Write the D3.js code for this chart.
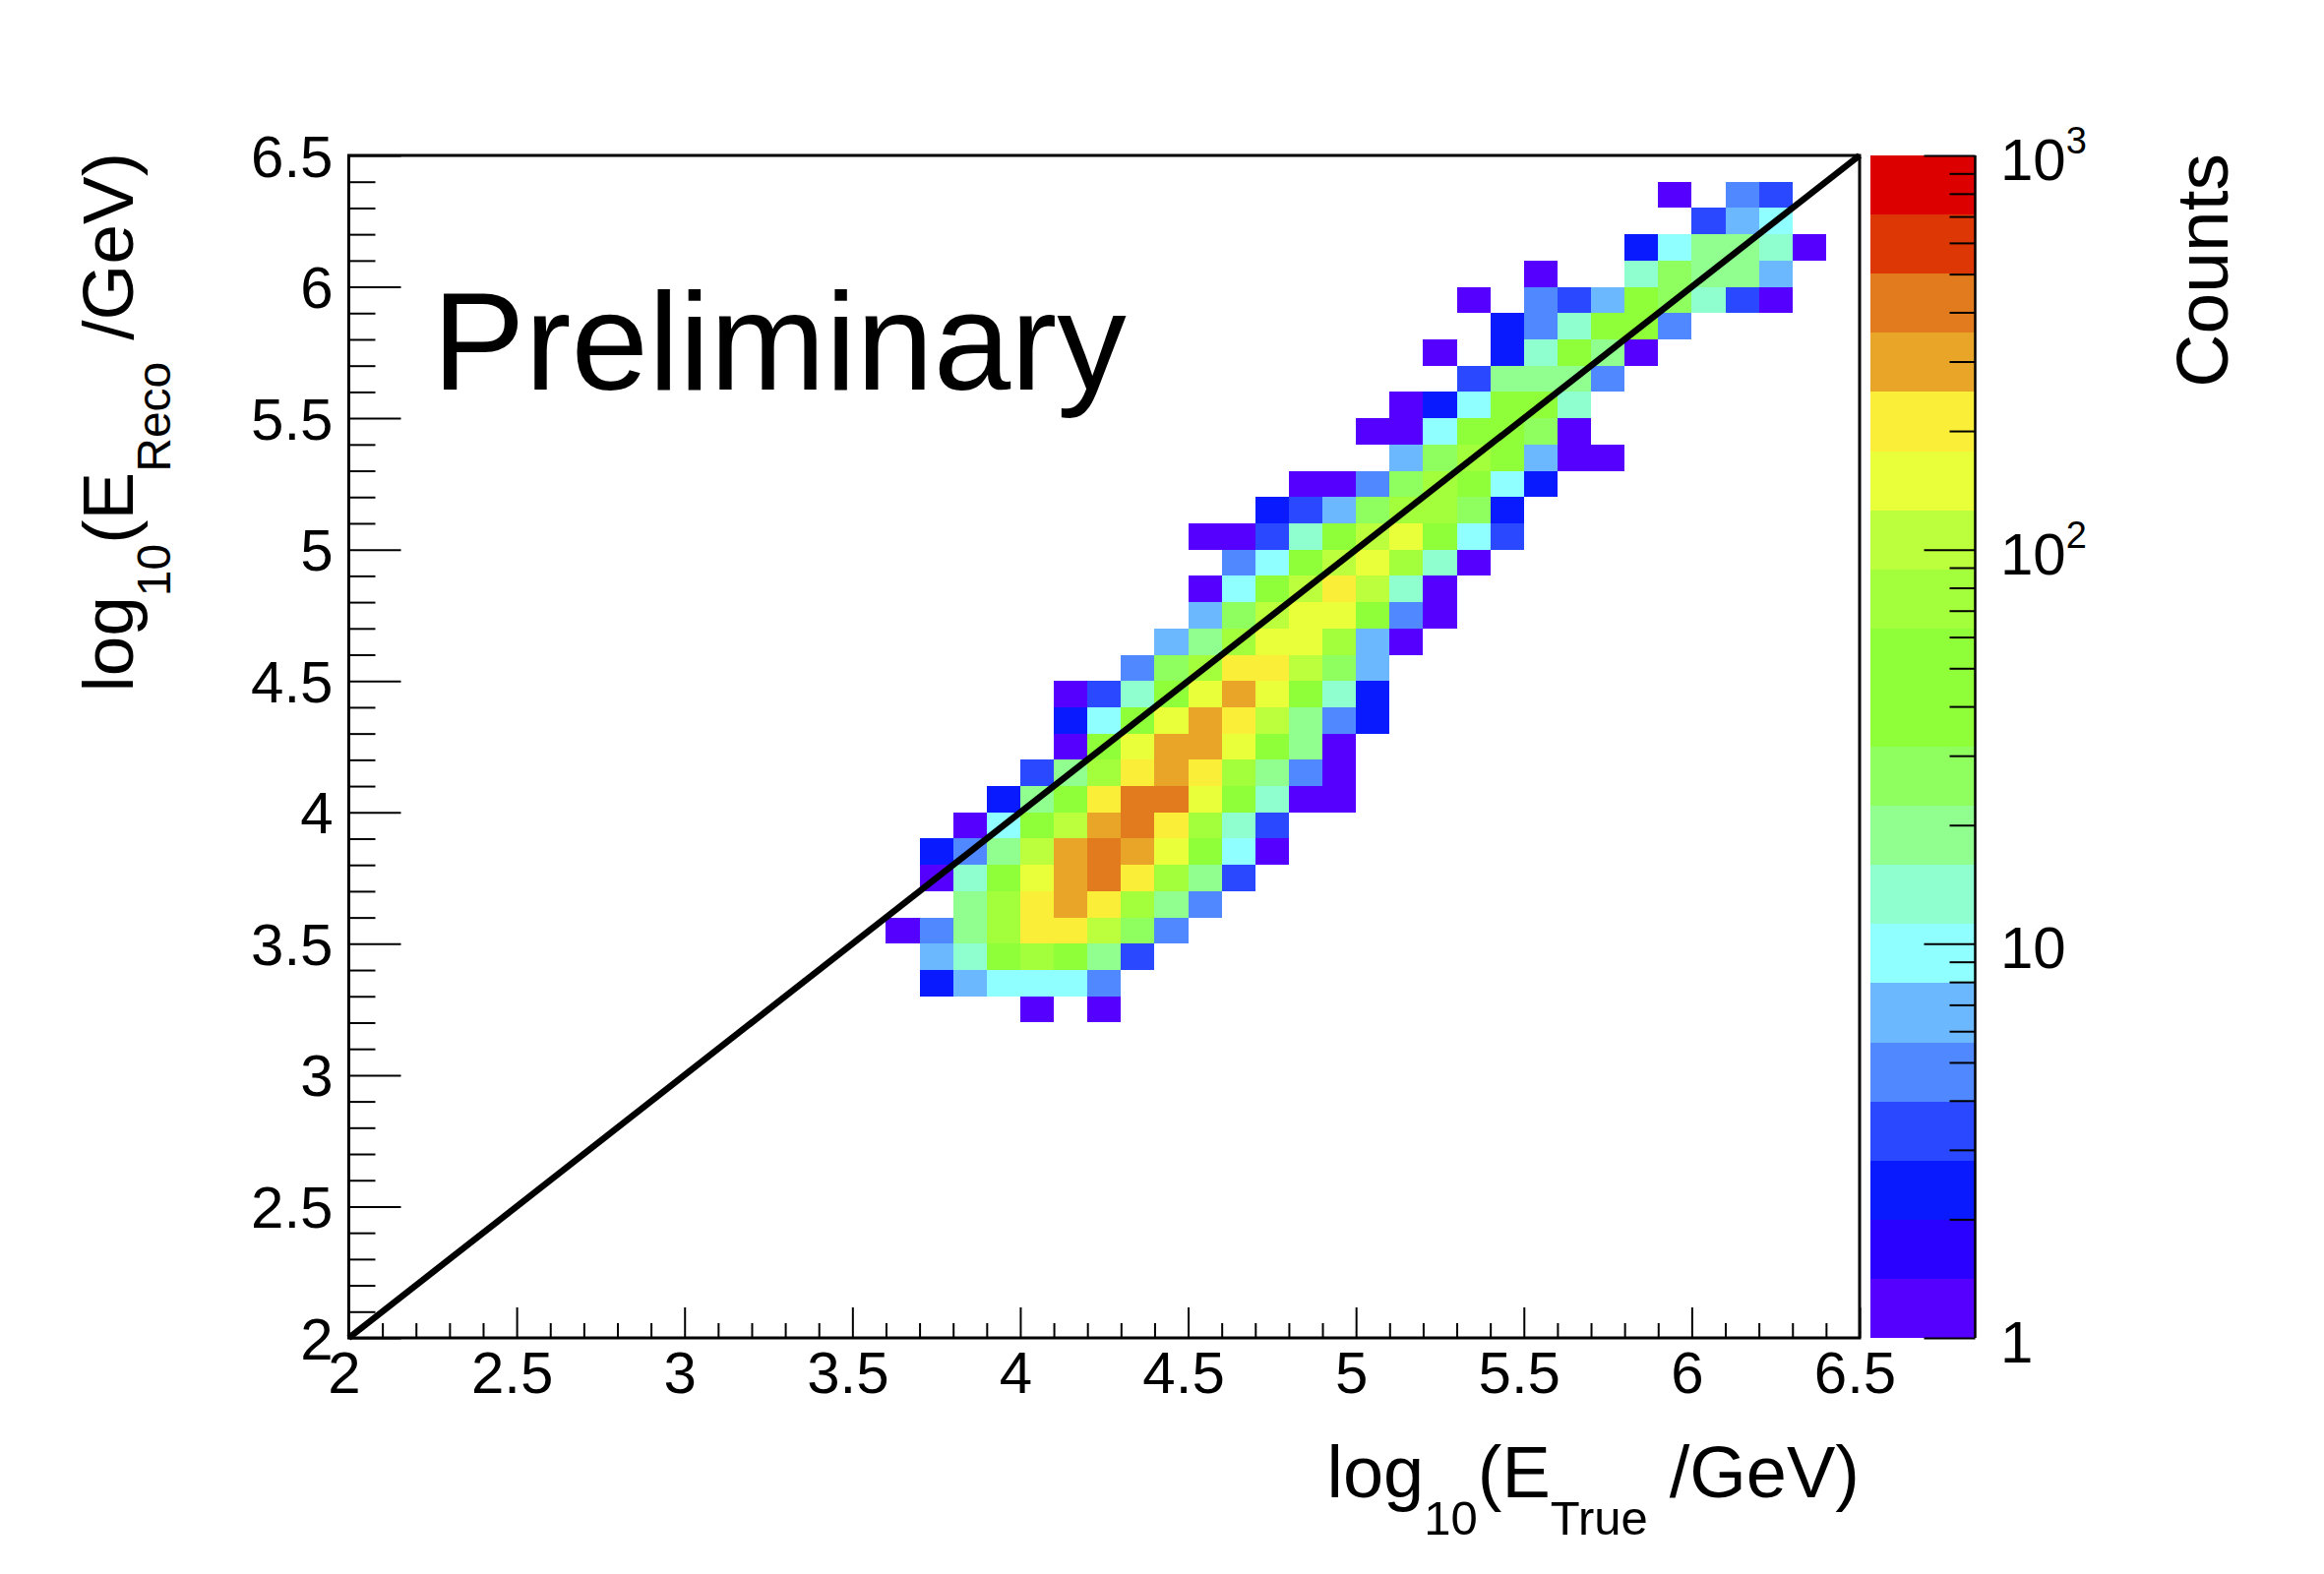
<!DOCTYPE html>
<html>
<head>
<meta charset="utf-8">
<title>Energy migration</title>
<script src="https://cdn.jsdelivr.net/npm/d3@7"></script>
<style>
  html, body { margin: 0; padding: 0; background: #fff; }
  text { font-family: "Liberation Sans", Arial, sans-serif; fill: #000; }
</style>
</head>
<body>
<svg id="chart" width="2362" height="1600"></svg>
<script>
// lower edge of each log10(E_Reco) row, bins are 0.1 wide
const recoBins = [3.2, 3.3, 3.4, 3.5, 3.6, 3.7, 3.8, 3.9, 4.0, 4.1, 4.2, 4.3, 4.4, 4.5, 4.6, 4.7,
  4.8, 4.9, 5.0, 5.1, 5.2, 5.3, 5.4, 5.5, 5.6, 5.7, 5.8, 5.9, 6.0, 6.1, 6.2, 6.3];

// lower edge of log10(E_True) for the first cell of each row
const firstTrueBin = [4.0, 3.7, 3.7, 3.6, 3.8, 3.7, 3.7, 3.8, 3.9, 4.0, 4.1, 4.1, 4.1, 4.3, 4.4, 4.5,
  4.5, 4.6, 4.5, 4.7, 4.8, 5.1, 5.0, 5.1, 5.3, 5.2, 5.4, 5.3, 5.5, 5.8, 6.0, 5.9];

const rowCounts = [
  [1, 0, 1],
  [2, 6, 9, 9, 9, 4],
  [6, 13, 38, 75, 38, 19, 3],
  [1, 4, 19, 75, 210, 210, 105, 27, 4],
  [19, 75, 210, 300, 210, 75, 19, 4],
  [1, 13, 38, 150, 300, 420, 210, 75, 19, 3],
  [2, 4, 19, 105, 300, 420, 300, 150, 38, 9, 1],
  [1, 9, 38, 105, 300, 420, 210, 75, 13, 3],
  [2, 19, 38, 210, 420, 420, 150, 38, 13, 1, 1],
  [3, 19, 75, 210, 300, 210, 75, 19, 4, 1],
  [1, 38, 150, 300, 300, 150, 38, 19, 1],
  [2, 9, 38, 150, 300, 210, 105, 19, 4, 2],
  [1, 3, 13, 38, 150, 300, 150, 38, 13, 2],
  [4, 27, 75, 210, 210, 105, 27, 6],
  [6, 19, 75, 150, 150, 75, 6, 1],
  [6, 27, 105, 150, 150, 38, 4, 1],
  [1, 9, 38, 105, 210, 105, 13, 1],
  [4, 9, 38, 105, 150, 75, 13, 1],
  [1, 1, 3, 13, 38, 105, 150, 38, 9, 3],
  [2, 3, 6, 27, 75, 75, 27, 2],
  [1, 1, 4, 27, 75, 38, 9, 2],
  [6, 27, 75, 38, 6, 1, 1],
  [1, 1, 9, 38, 38, 27, 1],
  [1, 2, 9, 38, 38, 13],
  [3, 19, 19, 19, 4],
  [1, 0, 2, 13, 38, 19, 1],
  [2, 4, 13, 38, 38, 4],
  [1, 0, 4, 3, 6, 38, 27, 13, 3, 1],
  [1, 0, 0, 13, 27, 19, 19, 6],
  [2, 9, 19, 19, 13, 1],
  [3, 6, 9],
  [1, 0, 4, 3]
];

// 20 palette bands of the colour bar, bottom to top
const palette = ["#5500ff", "#2a00ff", "#0a1aff", "#2a48ff", "#4f88ff", "#6cb8ff", "#90ffff", "#90ffd0",
  "#90ff8f", "#8fff60", "#8fff39", "#8fff39", "#a3ff3c", "#bcff3c", "#e8ff39", "#faee38",
  "#e8a528", "#e27a1e", "#dd3705", "#dc0000"];

const majorTicks = [2, 2.5, 3, 3.5, 4, 4.5, 5, 5.5, 6, 6.5];
const minorTicks = [2.1, 2.2, 2.3, 2.4, 2.6, 2.7, 2.8, 2.9, 3.1, 3.2, 3.3, 3.4, 3.6, 3.7, 3.8, 3.9,
  4.1, 4.2, 4.3, 4.4, 4.6, 4.7, 4.8, 4.9, 5.1, 5.2, 5.3, 5.4, 5.6, 5.7, 5.8, 5.9, 6.1, 6.2, 6.3, 6.4];
const barMajorTicks = [1, 10, 100, 1000];
const barMinorTicks = [2, 3, 4, 5, 6, 7, 8, 9, 20, 30, 40, 50, 60, 70, 80, 90, 200, 300, 400, 500, 600, 700, 800, 900];
const barLabels = [["1", ""], ["10", ""], ["10", "2"], ["10", "3"]];

const svg = d3.select("#chart");

const x = d3.scaleLinear().domain([2, 6.5]).range([354.5, 1890]);
const y = d3.scaleLinear().domain([2, 6.5]).range([1360, 158]);
const barY = d3.scaleLog().domain([1, 1000]).range([1360, 158]);
const barLeft = 1901, barRight = 2007.5;

// quantised on log10(counts), same bands as the colour bar
const color = d3.scaleQuantize().domain([0, 3]).range(palette);

// histogram cells
const cells = [];
recoBins.forEach((reco, r) => {
  rowCounts[r].forEach((count, i) => {
    if (count > 0) cells.push({ etrue: firstTrueBin[r] + i * 0.1, reco: reco, count: count });
  });
});

svg.append("g").selectAll("rect")
  .data(cells)
  .enter()
  .append("rect")
  .attr("x", d => x(d.etrue))
  .attr("y", d => y(d.reco + 0.1))
  .attr("width", d => x(d.etrue + 0.1) - x(d.etrue))
  .attr("height", d => y(d.reco) - y(d.reco + 0.1))
  .attr("fill", d => color(Math.log10(d.count)))
  .attr("shape-rendering", "crispEdges");

// diagonal
svg.append("line")
  .attr("x1", x(2)).attr("y1", y(2))
  .attr("x2", x(6.5)).attr("y2", y(6.5))
  .attr("stroke", "#000")
  .attr("stroke-width", 6.5);

// inward ticks, ROOT style
function styleAxis(g, width) {
  g.select(".domain").remove();
  g.selectAll("line").attr("stroke", "#000").attr("stroke-width", width);
}

svg.append("g")
  .attr("transform", `translate(0,${y(2)})`)
  .call(d3.axisBottom(x).tickValues(majorTicks).tickSize(-31).tickFormat(d3.format("")))
  .call(g => styleAxis(g, 2))
  .call(g => g.selectAll("text")
    .attr("font-size", 60).attr("dx", -5).attr("dy", 0).attr("y", 56));

svg.append("g")
  .attr("transform", `translate(0,${y(2)})`)
  .call(d3.axisBottom(x).tickValues(minorTicks).tickSize(-15).tickFormat(""))
  .call(g => styleAxis(g, 2));

svg.append("g")
  .attr("transform", `translate(${x(2)},0)`)
  .call(d3.axisLeft(y).tickValues(majorTicks).tickSize(-53).tickFormat(d3.format("")))
  .call(g => styleAxis(g, 2))
  .call(g => g.selectAll("text")
    .attr("font-size", 60).attr("x", -16).attr("dy", "0.35em"));

svg.append("g")
  .attr("transform", `translate(${x(2)},0)`)
  .call(d3.axisLeft(y).tickValues(minorTicks).tickSize(-27).tickFormat(""))
  .call(g => styleAxis(g, 2));

// frame
svg.append("rect")
  .attr("x", x(2)).attr("y", y(6.5))
  .attr("width", x(6.5) - x(2)).attr("height", y(2) - y(6.5))
  .attr("fill", "none")
  .attr("stroke", "#000")
  .attr("stroke-width", 3);

// colour bar
svg.append("g").selectAll("rect")
  .data(palette)
  .enter()
  .append("rect")
  .attr("x", barLeft)
  .attr("y", (d, i) => barY(Math.pow(10, (i + 1) * 3 / palette.length)))
  .attr("width", barRight - barLeft)
  .attr("height", (d, i) => barY(Math.pow(10, i * 3 / palette.length)) - barY(Math.pow(10, (i + 1) * 3 / palette.length)))
  .attr("fill", d => d)
  .attr("shape-rendering", "crispEdges");

svg.append("g")
  .attr("transform", `translate(${barRight},0)`)
  .call(d3.axisRight(barY).tickValues(barMajorTicks).tickSize(-52).tickFormat(""))
  .call(g => styleAxis(g, 2));

svg.append("g")
  .attr("transform", `translate(${barRight},0)`)
  .call(d3.axisRight(barY).tickValues(barMinorTicks).tickSize(-26).tickFormat(""))
  .call(g => styleAxis(g, 2));

svg.append("line")
  .attr("x1", barRight).attr("x2", barRight)
  .attr("y1", barY(1)).attr("y2", barY(1000))
  .attr("stroke", "#000")
  .attr("stroke-width", 2.5);

const barText = svg.append("g").selectAll("text")
  .data(barLabels)
  .enter()
  .append("text")
  .attr("x", 2033)
  .attr("y", (d, i) => barY(barMajorTicks[i]) + 25)
  .attr("font-size", 60);
barText.append("tspan").text(d => d[0]);
barText.append("tspan")
  .attr("font-size", 38)
  .attr("dy", -27)
  .text(d => d[1]);

// titles
svg.append("text")
  .attr("transform", "translate(2264,156) rotate(-90)")
  .attr("text-anchor", "end")
  .attr("font-size", 75)
  .text("Counts");

function title(sel, sub, size, subSize, gap) {
  sel.attr("text-anchor", "end").attr("font-size", size);
  sel.append("tspan").text("log");
  sel.append("tspan").attr("font-size", subSize).attr("dy", 38).text("10");
  sel.append("tspan").attr("dy", -38).text("(E");
  sel.append("tspan").attr("font-size", subSize).attr("dy", 38).text(sub);
  sel.append("tspan").attr("dx", gap).attr("dy", -38).text("/GeV)");
}

svg.append("text")
  .attr("x", 1890)
  .attr("y", 1522)
  .call(title, "True", 74, 49, 22);

svg.append("text")
  .attr("transform", "translate(135,155) rotate(-90)")
  .call(title, "Reco", 73, 48, 22);

svg.append("text")
  .attr("x", 439.5)
  .attr("y", 396)
  .attr("font-size", 141)
  .text("Preliminary");
</script>
</body>
</html>
